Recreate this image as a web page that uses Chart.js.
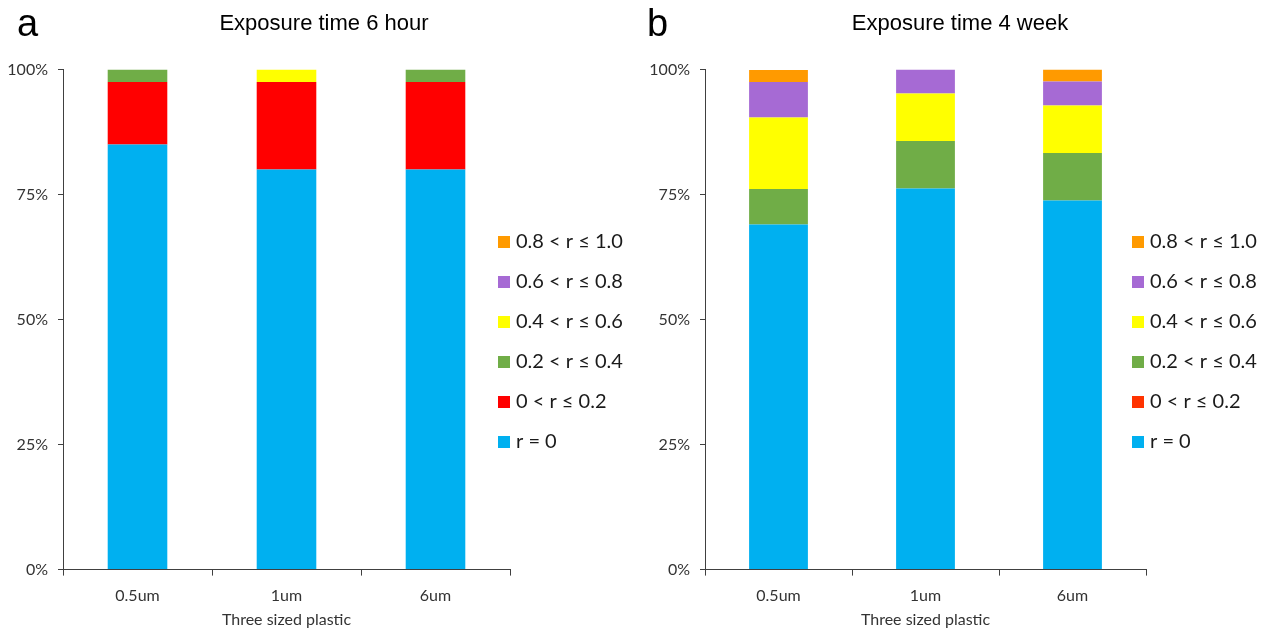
<!DOCTYPE html>
<html lang="en">
<head>
  <meta charset="UTF-8">
  <title>Exposure time</title>
  <script src="https://cdn.jsdelivr.net/npm/chart.js"></script>
  <style>
    body { margin: 0; background: #fff; }
    #wrap { position: relative; width: 1268px; height: 629px; }
    canvas { position: absolute; top: 0; }
    #chartA { left: 0; }
    #chartB { left: 634px; }
    .panel-tag {
      position: absolute;
      top: 1px;
      font-family: 'Liberation Sans Narrow', 'Liberation Sans', Arial, sans-serif;
      font-size: 38px;
      line-height: 44px;
      color: #000;
    }
  </style>
</head>
<body>
  <div id="wrap">
    <canvas id="chartA" width="634" height="629"></canvas>
    <canvas id="chartB" width="634" height="629"></canvas>
    <div class="panel-tag" style="left:17px">a</div>
    <div class="panel-tag" style="left:647px">b</div>
  </div>

  <script>
    // categories and correlation bins (bottom of stack first)
    const sizes = ['0.5um', '1um', '6um'];
    const bins = ['r = 0', '0 < r \u2264 0.2', '0.2 < r \u2264 0.4', '0.4 < r \u2264 0.6', '0.6 < r \u2264 0.8', '0.8 < r \u2264 1.0'];

    // exposure time 6 hour (% of samples)
    const h6_r0   = [85, 80, 80];
    const h6_r02  = [12.5, 17.5, 17.5];
    const h6_r04  = [2.5, 0, 2.5];
    const h6_r06  = [0, 2.5, 0];
    const h6_r08  = [0, 0, 0];
    const h6_r10  = [0, 0, 0];

    // exposure time 4 week (% of samples)
    const w4_r0   = [69.0, 76.2, 73.8];
    const w4_r02  = [0, 0, 0];
    const w4_r04  = [7.1, 9.5, 9.5];
    const w4_r06  = [14.3, 9.5, 9.5];
    const w4_r08  = [7.1, 4.8, 4.8];
    const w4_r10  = [2.4, 0, 2.4];

    const colorsA = ['#00B0F0', '#FF0000', '#70AD47', '#FFFF00', '#A66AD4', '#FF9A00'];
    const colorsB = ['#00B0F0', '#FF3300', '#70AD47', '#FFFF00', '#A66AD4', '#FF9A00'];

    const axisColor = '#404040';
    const tickFont = { family: 'Lato', size: 16 };

    // legend drawn at the right, top item = last dataset
    const sideLegend = {
      id: 'sideLegend',
      afterDraw(chart, args, opts) {
        const ctx = chart.ctx;
        const items = chart.data.datasets.slice().reverse();
        ctx.save();
        ctx.font = '20px Lato';
        ctx.textBaseline = 'middle';
        items.forEach((ds, i) => {
          const y = opts.top + i * opts.step;
          ctx.fillStyle = ds.backgroundColor;
          ctx.fillRect(opts.left, y - 6, 12, 12);
          ctx.fillStyle = '#1a1a1a';
          ctx.fillText(ds.label, opts.left + 18, y);
        });
        ctx.restore();
      }
    };

    // padRight < 0 only shifts the centred title to the right
    const makeChart = (id, titleText, series, colors, axisWidth, padRight, rightWidth) => {
      const datasets = series.map((data, i) => ({
        label: bins[i],
        data: data,
        backgroundColor: colors[i],
        borderWidth: 0,
        barPercentage: 0.4,
        categoryPercentage: 1
      }));

      return new Chart(document.getElementById(id), {
        type: 'bar',
        data: { labels: sizes, datasets: datasets },
        plugins: [sideLegend],
        options: {
          responsive: false,
          animation: false,
          layout: { padding: { left: 0, right: padRight, top: 0, bottom: 0 } },
          plugins: {
            legend: { display: false },
            tooltip: { enabled: false },
            title: {
              display: true,
              text: titleText,
              color: '#000',
              font: { family: 'Liberation Sans', size: 22, weight: 'normal' },
              padding: { top: 11, bottom: 32 }
            },
            sideLegend: { left: 498, top: 242, step: 40 }
          },
          scales: {
            x: {
              stacked: true,
              grid: { drawOnChartArea: false, tickLength: 6, color: axisColor, offset: true },
              border: { color: axisColor },
              ticks: { padding: 11, color: '#333', font: tickFont },
              title: {
                display: true,
                text: 'Three sized plastic',
                color: '#333',
                font: tickFont,
                padding: { top: -7, bottom: 0 }
              }
            },
            y: {
              stacked: true,
              min: 0,
              max: 100,
              ticks: { stepSize: 25, padding: 10, color: '#333', font: tickFont, callback: v => v + '%' },
              grid: { drawOnChartArea: false, tickLength: 5, color: axisColor },
              border: { color: axisColor },
              afterFit: s => { s.width = axisWidth; }
            },
            yR: {
              position: 'right',
              grid: { display: false },
              border: { display: false },
              ticks: { display: false },
              afterFit: s => { s.width = rightWidth; }
            }
          }
        }
      });
    };

    makeChart('chartA', 'Exposure time 6 hour',
      [h6_r0, h6_r02, h6_r04, h6_r06, h6_r08, h6_r10], colorsA, 63, -14, 138);
    makeChart('chartB', 'Exposure time 4 week',
      [w4_r0, w4_r02, w4_r04, w4_r06, w4_r08, w4_r10], colorsB, 71, -18, 140);
  </script>
</body>
</html>
